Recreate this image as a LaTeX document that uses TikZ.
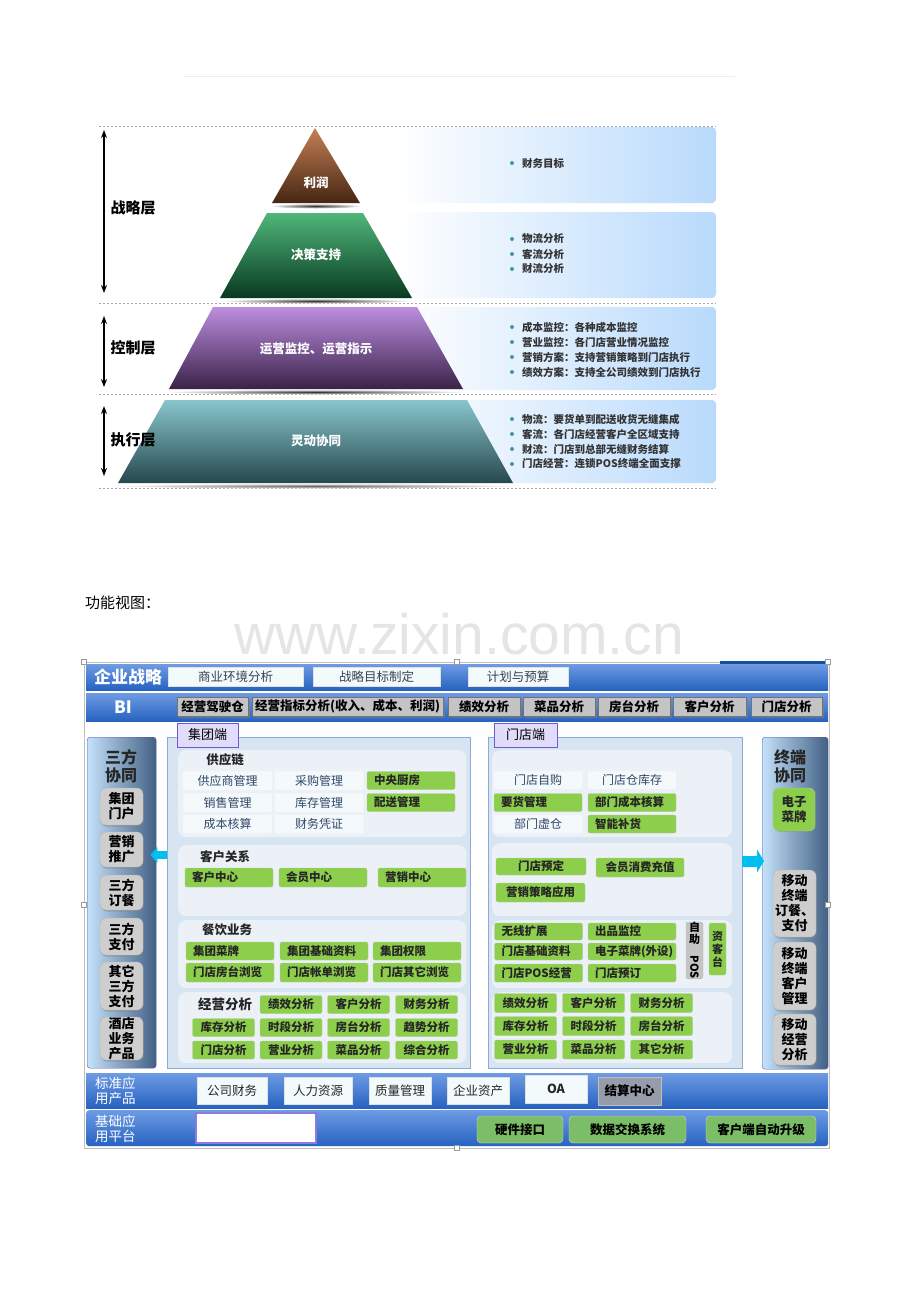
\documentclass[tikz,border=0pt]{standalone}
\usepackage{fontspec}
\setmainfont{Noto Sans CJK SC}
\newfontfamily\wmfont{Liberation Sans}
\usepackage{xcolor}
\usepackage{tikz}
\usetikzlibrary{positioning,shadows,arrows.meta}

\definecolor{bandtop}{RGB}{110,155,228}
\definecolor{bandbot}{RGB}{38,98,192}
\definecolor{stripblue}{RGB}{20,80,160}
\definecolor{boxfill}{RGB}{242,250,252}
\definecolor{boxtext}{RGB}{55,65,85}
\definecolor{btngray}{RGB}{196,196,196}
\definecolor{panelfill}{RGB}{215,228,242}
\definecolor{paneledge}{RGB}{140,170,215}
\definecolor{subfill}{RGB}{236,241,247}
\definecolor{palefill}{RGB}{244,249,251}
\definecolor{paletext}{RGB}{50,70,105}
\definecolor{grnfill}{RGB}{141,207,76}
\definecolor{grnedge}{RGB}{175,200,160}
\definecolor{grnsoft}{RGB}{123,190,103}
\definecolor{tabfill}{RGB}{224,220,250}
\definecolor{tabedge}{RGB}{110,90,210}
\definecolor{sideleft}{RGB}{196,226,250}
\definecolor{sideright}{RGB}{66,96,132}
\definecolor{sideedge}{RGB}{85,85,165}
\definecolor{sidebtn}{RGB}{206,206,206}
\definecolor{arrcyan}{RGB}{0,190,240}
\definecolor{settle}{RGB}{150,156,170}
\definecolor{pnlblue}{RGB}{185,218,252}
\definecolor{pnlmid}{RGB}{222,240,253}
\definecolor{dotteal}{RGB}{70,150,160}
\definecolor{brtop}{RGB}{196,128,86}
\definecolor{brbot}{RGB}{70,38,18}
\definecolor{grtop}{RGB}{80,182,122}
\definecolor{grbot}{RGB}{8,58,32}
\definecolor{putop}{RGB}{188,142,224}
\definecolor{pubot}{RGB}{58,34,72}
\definecolor{tetop}{RGB}{135,198,204}
\definecolor{tebot}{RGB}{38,72,78}

\begin{document}
\begin{tikzpicture}[
            x=1pt, y=-1pt,
            wd/.style={minimum width=#1pt},
            ht/.style={minimum height=#1pt},
            band/.style={top color=bandtop, bottom color=bandbot, draw=none, inner sep=0pt},
            wbox/.style={fill=boxfill, draw=black!12, text=boxtext, font=\fontsize{12.5}{12.5}\selectfont, inner sep=0pt, minimum height=19pt},
            gbtn/.style={fill=btngray, draw=black!55, font=\bfseries\fontsize{12.5}{12.5}\selectfont, inner sep=0pt, minimum height=19pt,
                drop shadow={opacity=.6, shadow xshift=1.5pt, shadow yshift=-1.5pt}},
            panel/.style={fill=panelfill, draw=paneledge, inner sep=0pt},
            subpanel/.style={fill=subfill, draw=none, rounded corners=8pt, inner sep=0pt},
            tabbox/.style={fill=tabfill, draw=tabedge, line width=.8pt, font=\fontsize{13}{13}\selectfont, inner sep=0pt, minimum height=24pt,
                drop shadow={opacity=.3, shadow xshift=1pt, shadow yshift=-1pt}},
            pale/.style={fill=palefill, draw=white, rounded corners=2pt, text=paletext, font=\fontsize{12}{12}\selectfont, inner sep=0pt, minimum height=18pt, minimum width=88pt},
            grn/.style={fill=grnfill, draw=grnedge, rounded corners=2pt, text=black!85, font=\bfseries\fontsize{11.5}{12}\selectfont, inner sep=0pt, minimum height=18pt},
            grnl/.style={grn, inner xsep=7pt, text width=74pt, align=left},
            sidepanel/.style={left color=sideleft, right color=sideright, draw=sideedge, rounded corners=3pt, inner sep=0pt},
            sidetitle/.style={font=\bfseries\fontsize{16}{18}\selectfont, text=black!85, align=center},
            sbtn/.style={fill=sidebtn, draw=black!30, rounded corners=6pt, font=\bfseries\fontsize{13}{15}\selectfont, align=center, inner sep=0pt, minimum width=43pt,
                drop shadow={opacity=.5, shadow xshift=1pt, shadow yshift=-1.5pt}},
            head/.style={font=\bfseries\fontsize{12.5}{12.5}\selectfont, text=black!85},
            bandtext/.style={text=white, font=\bfseries\fontsize{17}{17}\selectfont},
            soft/.style={fill=grnsoft, draw=black!15, rounded corners=4pt, font=\bfseries\fontsize{12.5}{12.5}\selectfont, inner sep=0pt, minimum height=27pt},
            tier/.style={text=white, font=\bfseries\fontsize{12.5}{12.5}\selectfont},
            layer/.style={font=\bfseries\fontsize{15}{15}\selectfont},
            bul/.style={anchor=west, text=black!80, font=\bfseries\fontsize{10.5}{10.5}\selectfont, inner sep=0pt},
            carrow/.style={draw=arrcyan, line width=#1pt},
            twoway/.style={{Stealth[length=8pt,width=6pt]}-{Stealth[length=8pt,width=6pt]}, line width=1.6pt}
        ]
    \useasboundingbox (0,0) rectangle (920,1302);
    \fill[white] (0,0) rectangle (920,1302);

    % faint rule at top
    \draw[black!7] (183,76) -- (735,76);

    % right hand panels
    \begin{scope}[rounded corners=4pt]
        \shade[left color=white, middle color=pnlmid, right color=pnlblue] (395,127) rectangle (716,203);
        \shade[left color=white, middle color=pnlmid, right color=pnlblue] (395,212) rectangle (716,298);
        \shade[left color=white, middle color=pnlmid, right color=pnlblue] (395,307) rectangle (716,390);
        \shade[left color=white, middle color=pnlmid, right color=pnlblue] (395,400) rectangle (716,483);
    \end{scope}

    % dashed separators
    \begin{scope}[black!35, dash pattern=on 2pt off 2pt, line width=.9pt]
        \draw (99,126) -- (716,126);
        \draw (99,303) -- (716,303);
        \draw (99,394) -- (716,394);
        \draw (99,488) -- (716,488);
    \end{scope}

    % pyramid shadows
    \shade[inner color=black!80, outer color=white] (316,206) ellipse (46pt and 2.5pt);
    \shade[inner color=black!80, outer color=white] (316,301) ellipse (95pt and 2.5pt);
    \shade[inner color=black!80, outer color=white] (316,392) ellipse (150pt and 2.5pt);
    \shade[inner color=black!60, outer color=white] (316,486) ellipse (200pt and 2.5pt);

    % pyramid
    \shade[top color=brtop, bottom color=brbot] (315,128) -- (360,203) -- (272,203) -- cycle;
    \shade[top color=grtop, bottom color=grbot] (267,213) -- (363,213) -- (412,298) -- (220,298) -- cycle;
    \shade[top color=putop, bottom color=pubot] (213,307) -- (417,307) -- (463,389) -- (169,389) -- cycle;
    \shade[top color=tetop, bottom color=tebot] (165,400) -- (467,400) -- (513,483) -- (118,483) -- cycle;
    \node[tier] (t1) at (316,183) {利润};
    \node[tier] (t2) at (316,255) {决策支持};
    \node[tier] (t3) at (316,349) {运营监控、运营指示};
    \node[tier] (t4) at (316,441) {灵动协同};

    % layers
    \coordinate (u1) at (104,130);
    \coordinate (d1) at (104,293);
    \coordinate (u2) at (104,316);
    \coordinate (d2) at (104,387);
    \coordinate (u3) at (104,406);
    \coordinate (d3) at (104,476);
    \draw[twoway] (u1) -- (d1);
    \draw[twoway] (u2) -- (d2);
    \draw[twoway] (u3) -- (d3);
    \node[layer, anchor=west] (l1) at (107,208) {战略层};
    \node[layer, anchor=west] (l2) at (107,348) {控制层};
    \node[layer, anchor=west] (l3) at (107,440) {执行层};

    % bullets
    \begin{scope}[every node/.style={bul}]
        \node (p11) at (522,163) {财务目标};
        \node (p21) at (522,239) {物流分析};
        \node (p22) at (522,254) {客流分析};
        \node (p23) at (522,269) {财流分析};
        \node (p31) at (522,327) {成本监控：各种成本监控};
        \node (p32) at (522,342) {营业监控：各门店营业情况监控};
        \node (p33) at (522,357) {营销方案：支持营销策略到门店执行};
        \node (p34) at (522,372) {绩效方案：支持全公司绩效到门店执行};
        \node (p41) at (522,419) {物流：要货单到配送收货无缝集成};
        \node (p42) at (522,434) {客流：各门店经营客户全区域支持};
        \node (p43) at (522,449) {财流：门店到总部无缝财务结算};
        \node (p44) at (522,464) {门店经营：连锁POS终端全面支撑};
    \end{scope}
    \foreach \y in {163,239,254,269,327,342,357,372,419,434,449,464}
        \fill[dotteal] (512,\y) circle (2pt);

    % caption and watermark
    \node[anchor=west, inner sep=0pt, font=\fontsize{15}{15}\selectfont] (cap) at (85,603) {功能视图：};
    \node[text=black!10, font=\wmfont\fontsize{57}{57}\selectfont] (wm) at (459,634) {www.zixin.com.cn};

    % frame of the view
    \draw[black!25] (84,662) rectangle (829,1148);
    \fill[stripblue] (720,661) rectangle (828,667);

    % strategy and BI bands
    \node[band, anchor=north west, minimum width=742pt, minimum height=26pt] (bd1) at (86,664) {};
    \node[band, anchor=north west, minimum width=742pt, minimum height=28pt] (bd2) at (86,693) {};
    \node[bandtext] (bd1t) at (128,676.5) {企业战略};
    \node[bandtext] (bd2t) at (123,707) {BI};
    \node[wbox, wd=135] (sy1) at (235.5,676.5) {商业环境分析};
    \node[wbox, wd=127] (sy2) at (376.5,676.5) {战略目标制定};
    \node[wbox, wd=100] (sy3) at (518,676.5) {计划与预算};
    \node[gbtn, wd=71] (bi1) at (212.5,706.5) {经营驾驶仓};
    \node[gbtn, wd=191] (bi2) at (347.5,706.5) {经营指标分析(收入、成本、利润)};
    \node[gbtn, wd=72] (bi3) at (484,706.5) {绩效分析};
    \node[gbtn, wd=72] (bi4) at (559,706.5) {菜品分析};
    \node[gbtn, wd=72] (bi5) at (634,706.5) {房台分析};
    \node[gbtn, wd=73] (bi6) at (709.5,706.5) {客户分析};
    \node[gbtn, wd=71] (bi7) at (786.5,706.5) {门店分析};

    % side panels
    \node[sidepanel, anchor=north west, minimum width=69pt, minimum height=331pt] (sf) at (87,737) {};
    \node[sidetitle] (sft) at (121,766) {三方\\协同};
    \node[sbtn, ht=37] (s1) at (121.5,806.5) {集团\\门户};
    \node[sbtn, ht=35] (s2) at (121.5,849.5) {营销\\推广};
    \node[sbtn, ht=35] (s3) at (121.5,892.5) {三方\\订餐};
    \node[sbtn, ht=37] (s4) at (121.5,936.5) {三方\\支付};
    \node[sbtn, ht=48] (s5) at (121.5,986) {其它\\三方\\支付};
    \node[sbtn, ht=43] (s6) at (121.5,1038.5) {酒店\\业务\\产品};

    \node[sidepanel, anchor=north west, minimum width=66pt, minimum height=332pt] (zd) at (762,737) {};
    \node[sidetitle] (zdt) at (790,766) {终端\\协同};
    \node[grn, rounded corners=6pt, align=center, font=\bfseries\fontsize{12.5}{15}\selectfont, wd=42, ht=43,
        drop shadow={opacity=.4, shadow xshift=1pt, shadow yshift=-1pt}] (z1) at (794,809.5) {电子\\菜牌};
    \node[sbtn, ht=67] (z2) at (794.5,903.5) {移动\\终端\\订餐、\\支付};
    \node[sbtn, ht=68] (z3) at (794.5,976) {移动\\终端\\客户\\管理};
    \node[sbtn, ht=51] (z4) at (794.5,1039.5) {移动\\经营\\分析};

    % group side
    \node[panel, anchor=north west, minimum width=303pt, minimum height=331pt] (jt) at (167,737) {};
    \node[subpanel, anchor=north west, minimum width=288pt, minimum height=87pt] (jt1) at (178,750) {};
    \node[subpanel, anchor=north west, minimum width=288pt, minimum height=71pt] (jt2) at (178,845) {};
    \node[subpanel, anchor=north west, minimum width=288pt, minimum height=68pt] (jt3) at (178,920) {};
    \node[subpanel, anchor=north west, minimum width=288pt, minimum height=71pt] (jt4) at (178,992) {};
    \node[tabbox, wd=61] (jtt) at (207.5,735) {集团端};

    \node[head] (hd1) at (225,760) {供应链};
    \node[pale, wd=89] (a1) at (227.5,780.5) {供应商管理};
    \node[pale] (a2) at (319,780.5) {采购管理};
    \node[grnl] (a3) at (411,780.5) {中央厨房};
    \node[pale] (a4) at (227.5,802.5) {销售管理};
    \node[pale] (a5) at (319,802.5) {库存管理};
    \node[grnl] (a6) at (411,802.5) {配送管理};
    \node[pale] (a7) at (227.5,824) {成本核算};
    \node[pale] (a8) at (319,824) {财务凭证};

    \node[head] (hd2) at (225,857) {客户关系};
    \node[grnl, ht=19] (b1) at (229,877.5) {客户中心};
    \node[grnl, ht=19] (b2) at (323,877.5) {会员中心};
    \node[grnl, ht=19] (b3) at (422,877.5) {营销中心};

    \node[head] (hd3) at (227,930) {餐饮业务};
    \node[grnl] (c1) at (230,951) {集团菜牌};
    \node[grnl] (c2) at (324,951) {集团基础资料};
    \node[grnl] (c3) at (417,951) {集团权限};
    \node[grnl, ht=19] (c4) at (230,972.5) {门店房台浏览};
    \node[grnl, ht=19] (c5) at (324,972.5) {门店帐单浏览};
    \node[grnl, ht=19] (c6) at (417,972.5) {门店其它浏览};

    \node[head, font=\bfseries\fontsize{13.5}{13.5}\selectfont] (hd4) at (225,1004) {经营分析};
    \begin{scope}[every node/.style={grn, wd=62, ht=18}]
        \node (d1) at (291,1004.5) {绩效分析};
        \node (d2) at (358.5,1004.5) {客户分析};
        \node (d3) at (426.5,1004.5) {财务分析};
        \node (d4) at (223.5,1027.5) {库存分析};
        \node (d5) at (291,1027.5) {时段分析};
        \node (d6) at (358.5,1027.5) {房台分析};
        \node (d7) at (426.5,1027.5) {趋势分析};
        \node (d8) at (223.5,1050) {门店分析};
        \node (d9) at (291,1050) {营业分析};
        \node (d10) at (358.5,1050) {菜品分析};
        \node (d11) at (426.5,1050) {综合分析};
    \end{scope}

    % store side
    \node[panel, anchor=north west, minimum width=254pt, minimum height=331pt] (md) at (488,737) {};
    \node[subpanel, anchor=north west, minimum width=240pt, minimum height=87pt] (md1) at (492,750) {};
    \node[subpanel, anchor=north west, minimum width=240pt, minimum height=73pt] (md2) at (492,843) {};
    \node[subpanel, anchor=north west, minimum width=240pt, minimum height=68pt] (md3) at (492,920) {};
    \node[subpanel, anchor=north west, minimum width=240pt, minimum height=71pt] (md4) at (492,992) {};
    \node[tabbox, wd=63] (mdt) at (525.5,735) {门店端};

    \node[pale, ht=17] (e1) at (538,780) {门店自购};
    \node[pale, ht=17] (e2) at (632,780) {门店仓库存};
    \node[grnl] (e3) at (538,802.5) {要货管理};
    \node[grnl] (e4) at (632,802.5) {部门成本核算};
    \node[pale] (e5) at (538,824) {部门虚仓};
    \node[grnl] (e6) at (632,824) {智能补货};

    \node[grn, wd=90, ht=17] (f1) at (541,866.5) {门店预定};
    \node[grn, wd=88, ht=19] (f2) at (640,867.5) {会员消费充值};
    \node[grn, wd=89, ht=19] (f3) at (540.5,892.5) {营销策略应用};

    \node[grnl, ht=17] (g1) at (538.5,931.5) {无线扩展};
    \node[grnl, ht=17] (g2) at (632,931.5) {出品监控};
    \node[grnl, ht=17] (g3) at (538.5,951.5) {门店基础资料};
    \node[grnl, ht=17] (g4) at (632,951.5) {电子菜牌(外设)};
    \node[grnl] (g5) at (538.5,973) {门店POS经营};
    \node[grnl] (g6) at (632,973) {门店预订};
    \node[fill=btngray, draw=black!25, rounded corners=2pt, inner sep=0pt, wd=17, ht=55, align=center,
        font=\bfseries\fontsize{11}{12}\selectfont] (g7) at (694.5,950.5) {自\\助\\\rotatebox{-90}{POS}};
    \node[grn, wd=17, ht=52, align=center, font=\bfseries\fontsize{11}{13}\selectfont] (g8) at (717.5,949) {资\\客\\台};

    \begin{scope}[every node/.style={grn, wd=62, ht=19}]
        \node (h1) at (525.5,1003) {绩效分析};
        \node (h2) at (593.5,1003) {客户分析};
        \node (h3) at (661.5,1003) {财务分析};
        \node (h4) at (525.5,1026) {库存分析};
        \node (h5) at (593.5,1026) {时段分析};
        \node (h6) at (661.5,1026) {房台分析};
        \node (h7) at (525.5,1049.5) {营业分析};
        \node (h8) at (593.5,1049.5) {菜品分析};
        \node (h9) at (661.5,1049.5) {其它分析};
    \end{scope}

    % block arrows
    \coordinate (al) at (160,855);
    \coordinate (ar) at (750,861);
    \draw[carrow=8, -{Triangle[width=16pt,length=7pt]}, shorten >=-6pt] (jt.west |- al) -- (sf.east |- al);
    \draw[carrow=11, -{Triangle[width=23pt,length=7pt]}, shorten >=-2pt] (md.east |- ar) -- (zd.west |- ar);

    % standard and base bands
    \node[band, anchor=north west, minimum width=742pt, minimum height=35pt] (bd3) at (86,1073) {};
    \node[band, anchor=north west, minimum width=742pt, minimum height=36pt, rounded corners=3pt] (bd4) at (86,1110) {};
    \node[anchor=west, text=white, align=left, inner sep=0pt, font=\fontsize{13.5}{15}\selectfont] (bd3t) at (95,1091) {标准应\\用产品};
    \node[anchor=west, text=white, align=left, inner sep=0pt, font=\fontsize{13.5}{15}\selectfont] (bd4t) at (95,1129) {基础应\\用平台};
    \node[wbox, text=black!85, ht=27, wd=70] (k1) at (232,1091) {公司财务};
    \node[wbox, text=black!85, ht=27, wd=68] (k2) at (318,1090.5) {人力资源};
    \node[wbox, text=black!85, ht=27, wd=62] (k3) at (400,1090.5) {质量管理};
    \node[wbox, text=black!85, ht=27, wd=62] (k4) at (478,1090.5) {企业资产};
    \node[wbox, text=black!85, ht=28, wd=62, font=\bfseries\fontsize{12.5}{12.5}\selectfont] (k5) at (556,1089) {OA};
    \node[fill=settle, draw=black!25, inner sep=0pt, minimum height=28pt, wd=63, font=\bfseries\fontsize{12.5}{12.5}\selectfont] (k6) at (629.5,1091) {结算中心};
    \node[fill=white, draw=tabedge!80, line width=2pt, inner sep=0pt, wd=120, ht=30] (m0) at (256,1128) {};
    \node[soft, wd=86] (m1) at (520,1129.5) {硬件接口};
    \node[soft, wd=117] (m2) at (627.5,1129.5) {数据交换系统};
    \node[soft, wd=110] (m3) at (761,1129.5) {客户端自动升级};

    % selection handles
    \foreach \p in {(84,662),(457,662),(828,662),(84,905),(828,905),(457,1148)}
        \draw[black!40, fill=white] \p ++(-2.5,-2.5) rectangle ++(5,5);
\end{tikzpicture}
\end{document}
